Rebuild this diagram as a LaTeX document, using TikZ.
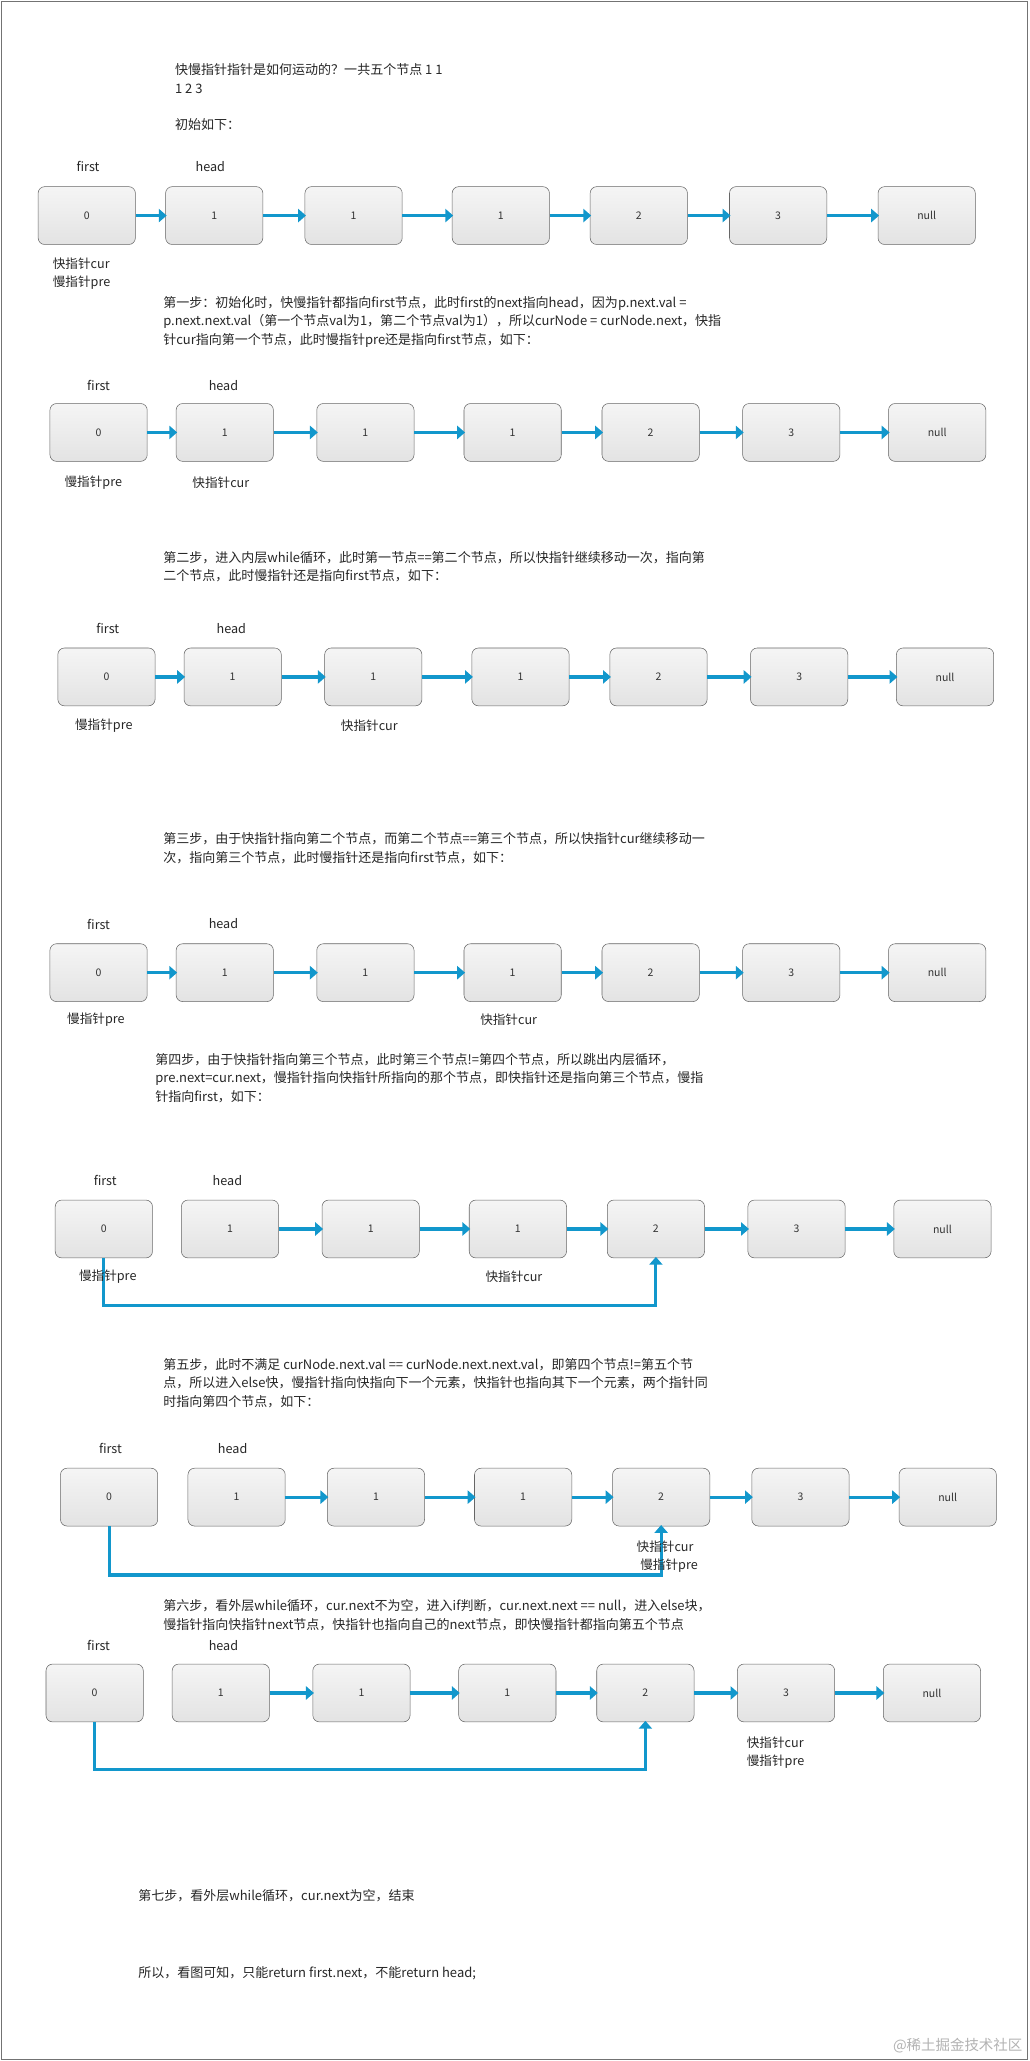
\documentclass[tikz,border=0pt]{standalone}
\usepackage{fontspec}
\setmainfont{Noto Sans CJK SC}
\usetikzlibrary{arrows.meta}
\definecolor{ablue}{HTML}{1297CC}
\tikzset{
 nd/.style={draw=black!60,rounded corners=5pt,top color=black!4,bottom color=black!11,minimum width=74pt,minimum height=44pt,inner sep=0pt,font=\fontsize{8}{9}\selectfont,text=black!80},
 arr/.style={ablue,line width=2.4pt,-{Triangle[length=6pt,width=10pt]},shorten >=-1pt},
 lbl/.style={font=\fontsize{9.6}{10}\selectfont,text=black!85,inner sep=0pt},
 para/.style={font=\fontsize{9.9}{14.3}\selectfont,text=black!85,align=left,anchor=north west,inner sep=0pt},
}
\newcommand\mkrow[4]{% name, ytop, list x/v, first arrow index
 \foreach \x/\v [count=\i] in {#3} {\node[nd] (#1\i) at (\x+37,#2+22) {\v};}
 \foreach \i [evaluate=\i as \j using int(\i+1)] in {#4,...,6} {\draw[arr] (#1\i.east) -- (#1\j.west);}
}
\begin{document}
\begin{tikzpicture}[x=1pt,y=-1pt]
\useasboundingbox (0,0) rectangle (783,1568);
\draw[black!55,line width=0.8pt] (1,1) rectangle (782,1567);

\node[para] (t0) at (133,48) {快慢指针指针是如何运动的？一共五个节点 1 1\\1 2 3\\[13pt]初始如下：};
\node[lbl] (f1) at (67,127) {first};
\node[lbl] (h1) at (160,127) {head};
\mkrow{a}{142}{29/0,126/1,232/1,344/1,449/2,555/3,668/null}{1}
\node[lbl,anchor=west] (c1) at (40,201) {快指针cur};
\node[lbl,anchor=west] (p1) at (40,215) {慢指针pre};

\node[para] (t1) at (124,225) {第一步：初始化时，快慢指针都指向first节点，此时first的next指向head，因为p.next.val =\\p.next.next.val（第一个节点val为1，第二个节点val为1），所以curNode = curNode.next，快指\\针cur指向第一个节点，此时慢指针pre还是指向first节点，如下：};
\node[lbl] (f2) at (75,293) {first};
\node[lbl] (h2) at (170,293) {head};
\mkrow{b}{307}{38/0,134/1,241/1,353/1,458/2,565/3,676/null}{1}
\node[lbl] (p2) at (71,367) {慢指针pre};
\node[lbl] (c2) at (168,367) {快指针cur};

\node[para] (t2) at (124,419) {第二步，进入内层while循环，此时第一节点==第二个节点，所以快指针继续移动一次，指向第\\二个节点，此时慢指针还是指向first节点，如下：};
\node[lbl] (f3) at (82,478) {first};
\node[lbl] (h3) at (176,478) {head};
\mkrow{c}{493}{44/0,140/1,247/1,359/1,464/2,571/3,682/null}{1}
\node[lbl] (p3) at (79,552) {慢指针pre};
\node[lbl] (c3) at (281,552) {快指针cur};

\node[para] (t3) at (124,633) {第三步，由于快指针指向第二个节点，而第二个节点==第三个节点，所以快指针cur继续移动一\\次，指向第三个节点，此时慢指针还是指向first节点，如下：};
\node[lbl] (f4) at (75,703) {first};
\node[lbl] (h4) at (170,703) {head};
\mkrow{d}{718}{38/0,134/1,241/1,353/1,458/2,565/3,676/null}{1}
\node[lbl] (p4) at (73,776) {慢指针pre};
\node[lbl] (c4) at (387,776) {快指针cur};

\node[para] (t4) at (118,801) {第四步，由于快指针指向第三个节点，此时第三个节点!=第四个节点，所以跳出内层循环，\\pre.next=cur.next，慢指针指向快指针所指向的那个节点，即快指针还是指向第三个节点，慢指\\针指向first，如下：};
\node[lbl] (f5) at (80,898) {first};
\node[lbl] (h5) at (173,898) {head};
\mkrow{e}{913}{42/0,138/1,245/1,357/1,462/2,569/3,680/null}{2}
\draw[arr] (e1.south) -- ++(0,36) -| (e5.south);
\node[lbl] (p5) at (82,971) {慢指针pre};
\node[lbl] (c5) at (391,971) {快指针cur};

\node[para] (t5) at (124,1033) {第五步，此时不满足 curNode.next.val == curNode.next.next.val，即第四个节点!=第五个节\\点，所以进入else快，慢指针指向快指向下一个元素，快指针也指向其下一个元素，两个指针同\\时指向第四个节点，如下：};
\node[lbl] (f6) at (84,1102) {first};
\node[lbl] (h6) at (177,1102) {head};
\mkrow{g}{1117}{46/0,143/1,249/1,361/1,466/2,572/3,684/null}{2}
\draw[arr] (g1.south) -- ++(0,37) -| (g5.south);
\node[lbl] (c6) at (506,1177) {快指针cur};
\node[lbl] (p6) at (509,1191) {慢指针pre};

\node[para] (t6) at (124,1217) {第六步，看外层while循环，cur.next不为空，进入if判断，cur.next.next == null，进入else块，\\慢指针指向快指针next节点，快指针也指向自己的next节点，即快慢指针都指向第五个节点};
\node[lbl] (f7) at (75,1252) {first};
\node[lbl] (h7) at (170,1252) {head};
\mkrow{k}{1266}{35/0,131/1,238/1,349/1,454/2,561/3,672/null}{2}
\draw[arr] (k1.south) -- ++(0,36) -| (k5.south);
\node[lbl,anchor=west] (c7) at (568,1326) {快指针cur};
\node[lbl,anchor=west] (p7) at (568,1340) {慢指针pre};

\node[para] (t7) at (105,1437) {第七步，看外层while循环，cur.next为空，结束};
\node[para] (t8) at (105,1496) {所以，看图可知，只能return first.next，不能return head;};
\node[font=\fontsize{11}{12}\selectfont,text=black!30,anchor=east,inner sep=0pt] (wm) at (778,1556) {@稀土掘金技术社区};
\end{tikzpicture}
\end{document}
